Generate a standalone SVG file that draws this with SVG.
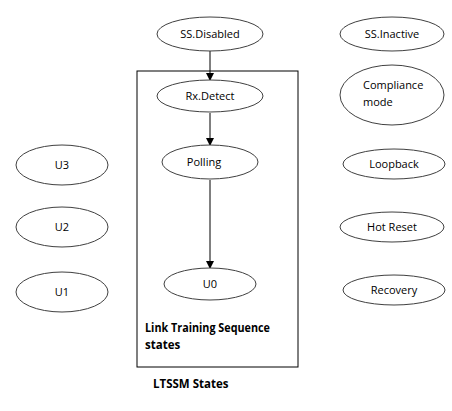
<svg xmlns="http://www.w3.org/2000/svg" width="452" height="411" viewBox="0 0 452 411">
<style>
.n{fill:#fff;stroke:#404040;stroke-width:1}
.t{font-family:"Open Sans","Liberation Sans",sans-serif;font-size:11px;fill:#000;text-anchor:middle}
.l{font-family:"Open Sans","Liberation Sans",sans-serif;font-size:11px;fill:#000}
.b{font-family:"Open Sans","Liberation Sans",sans-serif;font-size:11.5px;font-weight:bold;fill:#000}
.c{stroke:#000;stroke-width:1;fill:none;marker-end:url(#a)}
</style>
<defs>
<marker id="a" markerWidth="8" markerHeight="8" refX="7" refY="4" orient="auto" markerUnits="userSpaceOnUse">
<path d="M0,0 L8,4 L0,8 z" fill="#000"/>
</marker>
</defs>
<rect x="137" y="71" width="161" height="296" fill="none" stroke="#000" stroke-width="1"/>
<g id="connectors">
<line class="c" x1="210" y1="51" x2="210" y2="80"/>
<line class="c" x1="210" y1="113" x2="210" y2="145"/>
<line class="c" x1="210" y1="180" x2="210" y2="268"/>
</g>
<g id="ss-disabled"><ellipse class="n" cx="210" cy="34" rx="53" ry="17"/><text class="t" x="210" y="38">SS.Disabled</text></g>
<g id="rx-detect"><ellipse class="n" cx="210" cy="96" rx="53" ry="16"/><text class="t" x="210" y="100">Rx.Detect</text></g>
<g id="polling"><ellipse class="n" cx="210" cy="162" rx="48" ry="17"/><text class="t" x="204" y="166">Polling</text></g>
<g id="u0"><ellipse class="n" cx="210" cy="284" rx="46" ry="16"/><text class="t" x="210" y="288">U0</text></g>
<g id="ss-inactive"><ellipse class="n" cx="392" cy="34" rx="52" ry="17"/><text class="t" x="392" y="38">SS.Inactive</text></g>
<g id="compliance"><ellipse class="n" cx="392" cy="95" rx="52" ry="30"/><text class="l" x="363" y="89">Compliance</text><text class="l" x="363" y="106">mode</text></g>
<g id="loopback"><ellipse class="n" cx="394" cy="164" rx="51" ry="15"/><text class="t" x="394" y="168">Loopback</text></g>
<g id="hot-reset"><ellipse class="n" cx="392" cy="227" rx="52" ry="15"/><text class="t" x="392" y="231">Hot Reset</text></g>
<g id="recovery"><ellipse class="n" cx="394" cy="290" rx="51" ry="15"/><text class="t" x="394" y="294">Recovery</text></g>
<g id="u3"><ellipse class="n" cx="62" cy="165" rx="46" ry="20"/><text class="t" x="62" y="169">U3</text></g>
<g id="u2"><ellipse class="n" cx="62" cy="227" rx="46" ry="20"/><text class="t" x="62" y="231">U2</text></g>
<g id="u1"><ellipse class="n" cx="62" cy="292" rx="46" ry="20"/><text class="t" x="62" y="296">U1</text></g>
<text class="b" x="145" y="332" textLength="125" lengthAdjust="spacingAndGlyphs">Link Training Sequence</text>
<text class="b" x="145" y="349">states</text>
<text class="b" x="153" y="388">LTSSM States</text>
</svg>
